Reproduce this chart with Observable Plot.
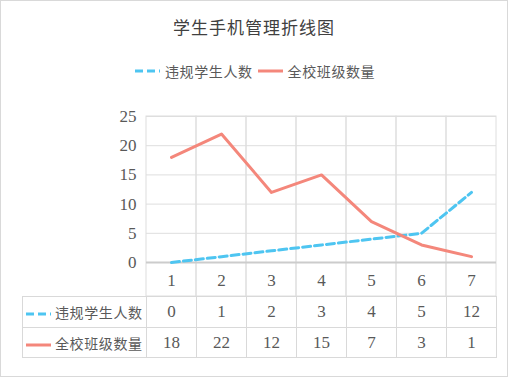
<!DOCTYPE html>
<html>
<head>
<meta charset="utf-8">
<script src="https://cdn.jsdelivr.net/npm/d3@7"></script>
<script src="https://cdn.jsdelivr.net/npm/@observablehq/plot@0.6"></script>
<style>
  html, body { margin: 0; padding: 0; background: #fff; }
  #wrap { position: relative; width: 512px; height: 384px; overflow: hidden; font-family: "Noto Sans CJK SC", sans-serif; }
  #frame { position: absolute; left: 0; top: 0; width: 506px; height: 375px; border: 1px solid #d9d9d9; }
  #title { position: absolute; left: 0; top: 18px; width: 508px; text-align: center; font-size: 17px; line-height: 1; color: #404040; letter-spacing: 1px; }
  #legend { position: absolute; left: 135px; top: 64px; font-size: 14px; line-height: 1; color: #595959; display: flex; align-items: center; white-space: nowrap; letter-spacing: 0.6px; }
  #legend .item { display: flex; align-items: center; margin-right: 5px; }
  #legend svg { margin-right: 5px; }
  #chart { position: absolute; left: 0; top: 100px; }
  #chart svg text { font-family: "Liberation Serif", "DejaVu Serif", serif; }
  #table { position: absolute; left: 22px; top: 296px; border-collapse: collapse; table-layout: fixed; }
  #table td { border: 1px solid #d9d9d9; padding: 0; text-align: center; vertical-align: middle; color: #595959; font-family: "Liberation Serif", "DejaVu Serif", serif; font-size: 17px; }
  #table td.lab { text-align: left; font-family: "Noto Sans CJK SC", sans-serif; font-size: 14px; letter-spacing: 0.6px; white-space: nowrap; }
  #table td.lab svg { vertical-align: middle; margin-left: 3px; margin-right: 4px; }
</style>
</head>
<body>
<div id="wrap">
  <div id="frame"></div>
  <div id="title"></div>
  <div id="legend"></div>
  <div id="chart"></div>
  <table id="table"></table>
</div>
<script>
const chartTitle = "学生手机管理折线图";
const categories = [1, 2, 3, 4, 5, 6, 7];
const seriesNames = ["违规学生人数", "全校班级数量"];
const violators = [0, 1, 2, 3, 4, 5, 12];
const classCounts = [18, 22, 12, 15, 7, 3, 1];
const yTicks = [0, 5, 10, 15, 20, 25];

const blue = "#4EC5F1";
const red = "#F4877B";
const seriesStyles = [
  {color: blue, dash: "8,4"},
  {color: red, dash: null}
];
const seriesValues = [violators, classCounts];

const rows = [];
seriesNames.forEach((name, s) => {
  categories.forEach((c, i) => rows.push({series: name, cat: c, value: seriesValues[s][i]}));
});

document.getElementById("title").textContent = chartTitle;

function swatch(style, w) {
  const dash = style.dash ? ` stroke-dasharray="${style.dash}"` : "";
  return `<svg width="${w}" height="8"><line x1="0" y1="4" x2="${w}" y2="4" stroke="${style.color}" stroke-width="3"${dash}/></svg>`;
}

const legend = document.getElementById("legend");
seriesNames.forEach((name, s) => {
  const item = document.createElement("div");
  item.className = "item";
  item.innerHTML = swatch(seriesStyles[s], 25) + `<span>${name}</span>`;
  legend.appendChild(item);
});

const chart = Plot.plot({
  width: 512,
  height: 200,
  marginLeft: 146,
  marginRight: 16,
  marginTop: 16,
  marginBottom: 38,
  style: {fontFamily: "'Liberation Serif', 'DejaVu Serif', serif", fontSize: "17px", color: "#595959", background: "transparent"},
  x: {type: "band", domain: categories, padding: 0, label: null, tickSize: 0, tickPadding: 11},
  y: {domain: [0, 25], ticks: yTicks, label: null, tickSize: 0, tickPadding: 10},
  marks: [
    Plot.ruleY(yTicks.filter(t => t > 0), {stroke: "#dedede", strokeWidth: 1}),
    Plot.cell(categories, {x: d => d, fill: "none", stroke: "#dedede", insetBottom: -34}),
    Plot.ruleY([0], {stroke: "#cccccc", strokeWidth: 2}),
    ...seriesNames.map((name, s) => Plot.line(rows.filter(r => r.series === name), {
      x: "cat", y: "value", stroke: seriesStyles[s].color, strokeWidth: 3,
      strokeDasharray: seriesStyles[s].dash || undefined
    }))
  ]
});
document.getElementById("chart").appendChild(chart);

const table = document.getElementById("table");
const colgroup = document.createElement("colgroup");
colgroup.innerHTML = `<col style="width:124px">` + categories.map(() => `<col style="width:50px">`).join("");
table.appendChild(colgroup);
seriesNames.forEach((name, s) => {
  const tr = document.createElement("tr");
  tr.style.height = s === 0 ? "31px" : "30px";
  tr.innerHTML = `<td class="lab">${swatch(seriesStyles[s], 25)}${name}</td>` +
    seriesValues[s].map(v => `<td>${v}</td>`).join("");
  table.appendChild(tr);
});
</script>
</body>
</html>
